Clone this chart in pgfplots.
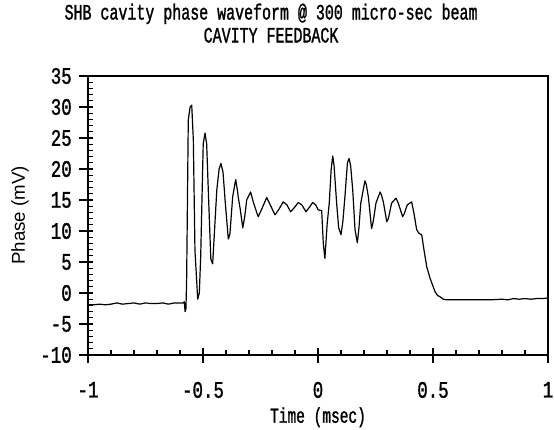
\documentclass[border=0pt]{standalone}
\usepackage{fontspec}
\setmainfont{Liberation Serif}
\newfontfamily\monofont[FakeStretch=0.68,FakeBold=1.2]{Liberation Mono}
\newfontfamily\tickfont[FakeStretch=0.74,FakeBold=1.2]{Liberation Mono}
\newfontfamily\labelsans{Liberation Sans}
\usepackage{pgfplots}
\pgfplotsset{compat=1.18}

\pgfplotstableread{
x y
-1.000 -1.9
-0.975 -1.9
-0.950 -1.8
-0.925 -1.9
-0.900 -1.8
-0.875 -1.6
-0.850 -1.8
-0.825 -1.7
-0.800 -1.6
-0.775 -1.8
-0.750 -1.6
-0.725 -1.7
-0.700 -1.7
-0.675 -1.6
-0.650 -1.8
-0.625 -1.6
-0.600 -1.6
-0.586 -1.6
-0.581 -1.4
-0.578 -3.0
-0.574 -2.5
-0.571 2.6
-0.564 27.9
-0.556 30.0
-0.549 30.3
-0.542 24.7
-0.535 6.9
-0.523 -1.0
-0.516 0.0
-0.510 5.9
-0.499 24.1
-0.491 25.8
-0.484 24.0
-0.477 16.6
-0.466 5.5
-0.458 4.7
-0.450 10.0
-0.440 16.6
-0.430 20.0
-0.422 20.9
-0.413 19.5
-0.404 15.0
-0.390 8.7
-0.383 9.5
-0.371 15.5
-0.358 18.3
-0.350 16.5
-0.347 15.5
-0.338 13.5
-0.327 10.5
-0.318 12.5
-0.310 15.0
-0.293 16.3
-0.280 14.5
-0.260 12.3
-0.245 13.5
-0.223 15.4
-0.205 14.0
-0.187 12.6
-0.170 13.5
-0.151 14.7
-0.135 14.2
-0.119 13.1
-0.102 13.8
-0.086 14.6
-0.070 14.2
-0.052 13.1
-0.038 13.8
-0.023 14.6
-0.010 14.2
0.001 13.4
0.016 13.3
0.023 8.0
0.030 5.6
0.040 11.2
0.049 14.5
0.057 19.8
0.064 22.1
0.070 20.5
0.081 14.5
0.090 10.5
0.100 9.4
0.108 11.5
0.117 15.5
0.128 21.0
0.135 21.7
0.142 20.5
0.151 16.6
0.161 10.2
0.171 8.1
0.178 10.5
0.186 14.5
0.204 18.1
0.210 17.5
0.219 15.5
0.233 10.4
0.240 11.5
0.252 14.5
0.270 16.3
0.276 15.8
0.284 14.7
0.299 11.5
0.306 12.0
0.320 14.5
0.339 15.3
0.349 14.5
0.368 12.3
0.375 12.8
0.388 14.2
0.407 14.7
0.417 12.9
0.429 10.2
0.440 9.6
0.451 9.4
0.461 6.9
0.473 4.2
0.487 2.4
0.509 0.2
0.520 -0.4
0.530 -0.6
0.545 -1.0
0.560 -1.1
0.600 -1.1
0.650 -1.1
0.700 -1.1
0.750 -1.1
0.800 -1.0
0.825 -1.1
0.850 -0.9
0.875 -1.0
0.900 -0.9
0.925 -1.0
0.950 -0.9
0.975 -0.9
1.000 -0.8
}\wavedata

\begin{document}
\begin{tikzpicture}
\begin{axis}[
  width=345pt, height=209.25pt, scale only axis,
  xmin=-1, xmax=1, ymin=-10, ymax=35,
  xtick={-1,-0.5,0,0.5,1},
  xticklabels={-1,-0.5,0,0.5,1},
  ytick={-10,-5,0,5,10,15,20,25,30,35},
  yticklabels={-10,-5,0,5,10,15,20,25,30,35},
  minor x tick num=4, minor y tick num=4,
  xtick pos=bottom, ytick pos=left,
  tick align=inside,
  major tick length=11pt, minor tick length=3.5pt,
  every major y tick/.append style={xshift=-7pt},
  every major x tick/.append style={yshift=-6pt},
  every tick/.append style={black, line width=0.8pt},
  axis line style={line width=1pt},
  tick label style={font=\fontsize{17.7}{19}\selectfont\tickfont},
  yticklabel style={anchor=east, inner sep=0pt, xshift=-12pt},
  xticklabel style={anchor=north, inner sep=0pt, yshift=-20pt},
  title={SHB cavity phase waveform @ 300 micro-sec beam\\CAVITY FEEDBACK},
  title style={at={(axis description cs:0.398,1)}, anchor=south, inner sep=0pt,
    yshift=18.75pt, align=center, font=\fontsize{16.5}{17.25}\selectfont\monofont},
  xlabel={Time (msec)},
  xlabel style={at={(axis description cs:0.5,0)}, anchor=north, inner sep=0pt,
    yshift=-39pt, font=\fontsize{16}{18}\selectfont\monofont},
  ylabel={Phase (mV)},
  ylabel style={at={(axis description cs:-0.1478,0.5)}, anchor=center,
    font=\fontsize{14}{16}\selectfont\labelsans},
]
\addplot[black, line width=0.9pt, line join=round] table[x=x, y=y] {\wavedata};
\end{axis}
\pgfresetboundingbox
\path ([shift={(-66pt,-55.5pt)}]current axis.south west) rectangle ([shift={(4.5pt,57pt)}]current axis.north east);
\end{tikzpicture}
\end{document}
